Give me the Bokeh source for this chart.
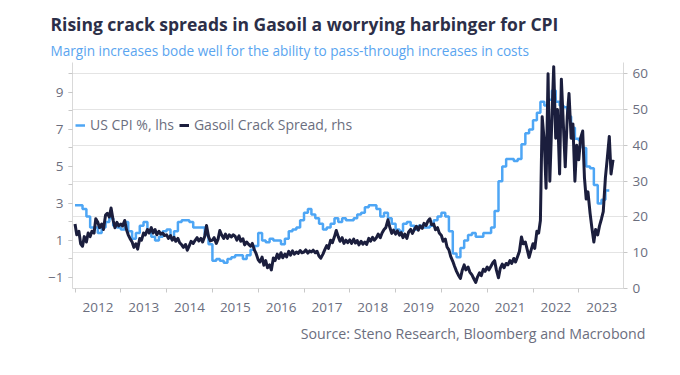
import pandas as pd
from bokeh.plotting import figure
from bokeh.models import (Range1d, LinearAxis, FixedTicker, Grid, Title, Legend,
                          LegendItem, ColumnDataSource, CustomJSTickFormatter)
from bokeh.embed import file_html
from bokeh.resources import INLINE

# ---------------- data ----------------
# US CPI YoY %, monthly (lhs)
cpi_2012 = [2.9, 2.9, 2.7, 2.3, 1.7, 1.7, 1.4, 1.7, 2.0, 2.2, 1.8, 1.7]
cpi_2013 = [1.6, 2.0, 1.5, 1.1, 1.4, 1.8, 2.0, 1.5, 1.2, 1.0, 1.2, 1.5]
cpi_2014 = [1.6, 1.1, 1.5, 2.0, 2.1, 2.1, 2.0, 1.7, 1.7, 1.7, 1.3, 0.8]
cpi_2015 = [-0.1, 0.0, -0.1, -0.2, 0.0, 0.1, 0.2, 0.2, 0.0, 0.2, 0.5, 0.7]
cpi_2016 = [1.4, 1.0, 0.9, 1.1, 1.0, 1.0, 0.8, 1.1, 1.5, 1.6, 1.7, 2.1]
cpi_2017 = [2.5, 2.7, 2.4, 2.2, 1.9, 1.6, 1.7, 1.9, 2.2, 2.0, 2.2, 2.1]
cpi_2018 = [2.1, 2.2, 2.4, 2.5, 2.8, 2.9, 2.9, 2.7, 2.3, 2.5, 2.2, 1.9]
cpi_2019 = [1.6, 1.5, 1.9, 2.0, 1.8, 1.6, 1.8, 1.7, 1.7, 1.8, 2.1, 2.3]
cpi_2020 = [2.5, 2.3, 1.5, 0.3, 0.1, 0.6, 1.0, 1.3, 1.4, 1.2, 1.2, 1.4]
cpi_2021 = [1.4, 1.7, 2.6, 4.2, 5.0, 5.4, 5.4, 5.3, 5.4, 6.2, 6.8, 7.0]
cpi_2022 = [7.5, 7.9, 8.5, 8.3, 8.6, 9.1, 8.5, 8.3, 8.2, 7.7, 7.1, 6.5]
cpi_2023 = [6.4, 6.0, 5.0, 4.9, 4.0, 3.0, 3.2, 3.7, 3.7]

# Gasoil crack spread, USD/bbl, semi-monthly (rhs)
crack_2012 = [18, 15, 16, 12.5, 11.8, 14.5, 13, 15.5, 14.5, 16, 15.5, 19.5,
              18.5, 17, 18, 16.5, 20.5, 21, 20, 22.5, 19, 17, 18.5, 17.5]
crack_2013 = [18, 17.5, 19, 16.5, 15, 14, 13, 11.5, 12.5, 11, 14, 13.5,
              15.5, 15, 16.5, 15.5, 17, 15.5, 16.5, 15, 16, 15.2, 15.5, 14.8]
crack_2014 = [15, 14, 14.8, 13.5, 14.3, 13.2, 14, 12.8, 12.2, 11.5, 12.3, 10.7,
              12, 13.2, 12.6, 13.4, 14.2, 13.3, 14, 13, 14.6, 17.6, 14.5, 13.3]
crack_2015 = [13.5, 14.2, 12.6, 13.8, 16.2, 15, 14, 15.2, 14, 15, 14.4, 15,
              14.6, 13.5, 14.7, 13.2, 13.9, 12.2, 13, 12.4, 11.8, 12.6, 10.8, 9.8]
crack_2016 = [8, 7.4, 8.8, 6.5, 7.8, 5.8, 6.6, 5.2, 8.5, 7.8, 9.6, 8.4,
              10, 8.6, 9.6, 8.8, 10.4, 9.3, 10.5, 9.6, 10.2, 9.8, 10.6, 10]
crack_2017 = [10.2, 10.8, 9.9, 10.5, 10.2, 10.7, 10, 10.4, 9, 8.5, 9.6, 10.8,
              12, 11.2, 13.5, 12.8, 14.5, 16.2, 14.5, 13.2, 14.2, 12.6, 13.5, 12.8]
crack_2018 = [13.6, 12.6, 13.8, 12.7, 13.4, 12.2, 13.2, 12.4, 13, 12.3, 14, 13.2,
              14.3, 13.5, 14.2, 15.2, 14.2, 15.5, 16.5, 17, 19.2, 17.2, 15.4, 16.3]
crack_2019 = [15.2, 16.1, 14.9, 15.6, 14.2, 15.2, 14, 15.8, 16.5, 15.4, 16.6, 17.4,
              16.3, 17.5, 16.8, 18.2, 17.6, 18.8, 19.5, 17.8, 18, 16.4, 17, 15.5]
crack_2020 = [14.8, 13.2, 13.8, 11.6, 10.8, 9, 7.6, 6.2, 4.8, 3.8, 2.8, 5,
              6.6, 5.2, 6, 4.6, 3.8, 2.8, 1.7, 3.2, 4.4, 3.6, 5.4, 4.8]
crack_2021 = [6, 5.2, 6.3, 7.2, 7.8, 5.2, 3, 5.6, 6.8, 5.8, 7, 6.6,
              7.8, 7, 8.4, 7.4, 9, 10.4, 14.4, 12.5, 13, 11, 8.7, 10.5]
crack_2022 = [12.5, 11.2, 16, 15.5, 19, 48, 41, 28, 60, 30, 48, 62,
              42, 50, 32, 58.5, 45, 34, 48, 54.5, 42, 46, 30, 40]
crack_2023 = [36, 42, 44, 31, 25, 27, 21, 17, 13, 16.5, 15, 17.5,
              19.5, 21.5, 31, 36, 42.5, 32, 36]

years = list(range(2012, 2024))
cpi = sum([cpi_2012, cpi_2013, cpi_2014, cpi_2015, cpi_2016, cpi_2017, cpi_2018,
           cpi_2019, cpi_2020, cpi_2021, cpi_2022, cpi_2023], [])
crack = sum([crack_2012, crack_2013, crack_2014, crack_2015, crack_2016, crack_2017,
             crack_2018, crack_2019, crack_2020, crack_2021, crack_2022, crack_2023], [])


def decimal_year(dates):
    days = [366 if d.is_leap_year else 365 for d in dates]
    return [d.year + (d.dayofyear - 1) / n for d, n in zip(dates, days)]


cpi_dates = pd.date_range("2012-01-01", periods=len(cpi), freq="MS")
crack_dates = pd.date_range("2012-01-01", periods=len(crack), freq="SMS")
src_cpi = ColumnDataSource(dict(x=decimal_year(cpi_dates), y=cpi))
src_crack = ColumnDataSource(dict(x=decimal_year(crack_dates), y=crack))

# ---------------- styling ----------------
FONT = "Open Sans"
GREY = "#6b6e7e"
BLUE = "#4ea6f5"
NAVY = "#1b1e3d"

p = figure(width=680, height=375, output_backend="svg", toolbar_location=None,
           x_range=Range1d(2011.945, 2023.976), y_range=Range1d(-1.595, 10.62),
           min_border_left=72, min_border_right=57, min_border_top=62,
           min_border_bottom=87)
p.outline_line_color = None
p.xgrid.visible = False
p.ygrid.visible = False
p.extra_y_ranges = {"rhs": Range1d(0, 63.16)}

r_cpi = p.step("x", "y", source=src_cpi, mode="after", line_color=BLUE, line_width=2.5)
r_crack = p.line("x", "y", source=src_crack, y_range_name="rhs", line_color=NAVY,
                 line_width=3, line_join="round")

right = LinearAxis(y_range_name="rhs", ticker=FixedTicker(ticks=[0, 10, 20, 30, 40, 50, 60]))
p.add_layout(right, "right")
p.add_layout(Grid(dimension=1, ticker=right.ticker, y_range_name="rhs",
                  grid_line_color="#e4e4e4", grid_line_width=1), "center")

p.yaxis[0].ticker = FixedTicker(ticks=[-1, 1, 3, 5, 7, 9], minor_ticks=list(range(-1, 11)))
p.xaxis[0].ticker = FixedTicker(ticks=[y + 0.5 for y in years], minor_ticks=years)
p.xaxis[0].formatter = CustomJSTickFormatter(code="return String(Math.floor(tick));")

for ax in [p.xaxis[0], p.yaxis[0], right]:
    ax.axis_line_color = "#d9d9d9"
    ax.major_tick_line_color = "#c8c8c8"
    ax.minor_tick_line_color = "#c8c8c8"
    ax.major_tick_in = 0
    ax.major_tick_out = 4
    ax.minor_tick_in = 0
    ax.minor_tick_out = 4
    ax.major_label_text_font = FONT
    ax.major_label_text_font_size = "13.5px"
    ax.major_label_text_color = GREY
    ax.major_label_standoff = 5
right.minor_tick_line_color = None
p.xaxis[0].major_tick_line_color = None
p.xaxis[0].major_label_standoff = 10

sub = Title(text="Margin increases bode well for the ability to pass-through increases in costs",
            align="left", offset=-22, text_font=FONT, text_font_size="13.6px",
            text_font_style="normal", text_color="#5aa5f0", standoff=5)
title = Title(text="Rising crack spreads in Gasoil a worrying harbinger for CPI",
              align="left", offset=-22, text_font=FONT, text_font_size="17.5px",
              text_font_style="bold", text_color="#2c2f48", standoff=1)
p.add_layout(sub, "above")
p.add_layout(title, "above")

source = Title(text="Source: Steno Research, Bloomberg and Macrobond", align="right",
               offset=-22, text_font=FONT, text_font_size="14.2px",
               text_font_style="normal", text_color=GREY, standoff=14)
p.add_layout(source, "below")

legend = Legend(items=[LegendItem(label="US CPI %, lhs", renderers=[r_cpi]),
                       LegendItem(label="Gasoil Crack Spread, rhs", renderers=[r_crack])],
                orientation="horizontal", location=(3, 154), glyph_width=10,
                glyph_height=14, label_standoff=5, spacing=5, padding=2, margin=0,
                border_line_color=None, background_fill_alpha=0,
                label_text_font=FONT, label_text_font_size="14px", label_text_color=GREY)
p.add_layout(legend, "center")

open("out.html", "w").write(file_html(p, INLINE))
